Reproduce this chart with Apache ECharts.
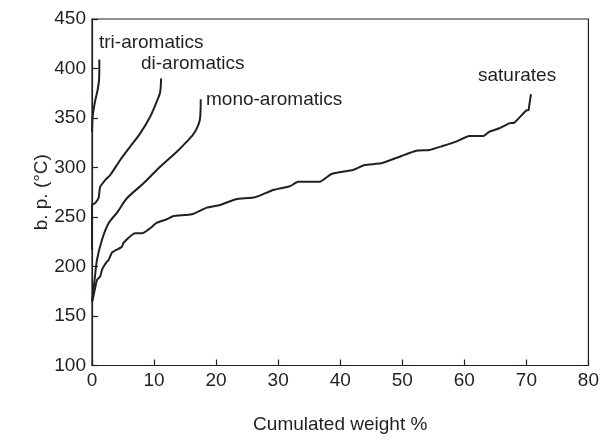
<!DOCTYPE html>
<html><head><meta charset="utf-8">
<script src="https://cdn.jsdelivr.net/npm/echarts@6/dist/echarts.min.js"></script>
<style>html,body{margin:0;padding:0;background:#fff}#c{width:602px;height:440px}</style>
</head><body><div id="c"></div>
<script>
const xTicks = [0,10,20,30,40,50,60,70,80];
const yTicks = [100,150,200,250,300,350,400,450];
const triAromatics = [[0,336],[0.1,351],[0.3,360],[0.53,368],[0.9,378],[1.15,390],[1.18,409]];
const diAromatics = [[0,217],[0,262],[0.5,264],[1.05,269],[1.17,274],[1.33,280.6],[2.14,287.4],[2.94,292.4],[4.55,307.6],[6.16,321.1],[7.77,334.5],[9.37,351.3],[10.4,366],[10.98,376],[11.14,390]];
const monoAromatics = [[0,164.5],[0.42,186.4],[0.8,206.6],[1.6,226.8],[2.67,243.6],[4.1,255],[5.63,268.9],[8.3,284],[10.98,300.8],[13.67,316],[15.27,326.1],[16.6,336.2],[17.41,349.7],[17.52,369]];
const saturates = [[0,164.5],[0.1,166],[0.8,186.4],[1.33,190],[1.6,196.5],[1.86,199.8],[2.41,204.9],[2.67,206.6],[3.22,214],[4.02,217],[4.82,220],[5.08,224],[6.96,233.5],[7.77,233.5],[8.3,234],[9.37,238.6],[10.45,244.2],[12.06,247.7],[13.12,251],[16.08,252.7],[18.49,259.5],[20.63,262.1],[23.2,268],[26.25,269.9],[29.2,277.3],[31.88,281],[33.2,285.6],[36.7,285.6],[38.6,293.4],[42.06,297.5],[43.94,302.5],[46.6,304.2],[49.57,310.9],[52.25,317],[54.4,317.7],[56.5,321.7],[58.68,326.1],[60.8,331.8],[63.1,331.8],[64.04,336.2],[65.64,339.6],[67.25,344.6],[68.06,345.3],[69.94,357.4],[70.36,358.1],[70.47,363.1],[70.74,374]];
const seriesNames = ['tri-aromatics','di-aromatics','mono-aromatics','saturates'];
const seriesData = [triAromatics, diAromatics, monoAromatics, saturates];
const seriesSmooth = [0.2, 0.25, 0.35, 0.15];
const curveLabels = [
  {text:'tri-aromatics', x:99, y:43},
  {text:'di-aromatics', x:141, y:64},
  {text:'mono-aromatics', x:206, y:100},
  {text:'saturates', x:478, y:76}
];
const FONT = '"Liberation Sans", Arial, sans-serif';
const INK = '#231f20';
const FS = 19;
const chart = echarts.init(document.getElementById('c'), null, {renderer:'canvas'});
chart.setOption({
  animation:false,
  backgroundColor:'#fff',
  grid:{left:92, right:12, top:19, bottom:74.5, containLabel:false, show:true, borderColor:INK, borderWidth:1.2, backgroundColor:'transparent'},
  xAxis:{type:'value', min:xTicks[0], max:xTicks[xTicks.length-1], interval:10,
    name:'Cumulated weight %', nameLocation:'middle', nameGap:50, nameMoveOverlap:false,
    nameTextStyle:{fontFamily:FONT, fontSize:FS, color:INK},
    axisLine:{show:true, onZero:false, lineStyle:{color:INK, width:1.2}},
    axisTick:{show:true, inside:true, length:6, lineStyle:{color:INK, width:1.2}},
    axisLabel:{fontFamily:FONT, fontSize:FS, color:INK, margin:6},
    splitLine:{show:false}},
  yAxis:{type:'value', min:yTicks[0], max:yTicks[yTicks.length-1], interval:50,
    name:'b. p. (°C)', nameLocation:'middle', nameGap:41, nameRotate:90, nameMoveOverlap:false,
    nameTextStyle:{fontFamily:FONT, fontSize:FS, color:INK},
    axisLine:{show:true, onZero:false, lineStyle:{color:INK, width:1.2}},
    axisTick:{show:true, inside:true, length:6, lineStyle:{color:INK, width:1.2}},
    axisLabel:{fontFamily:FONT, fontSize:FS, color:INK, margin:6},
    splitLine:{show:false}},
  series: seriesData.map((d,i)=>({
    name:seriesNames[i], type:'line', data:d, showSymbol:false, symbol:'none',
    lineStyle:{color:INK, width:2}, smooth:seriesSmooth[i], z:3
  })),
  graphic: curveLabels.map(l=>({type:'text', x:l.x, y:l.y,
    style:{text:l.text, fontFamily:FONT, fontSize:FS, fill:INK, align:'left', verticalAlign:'middle'}}))
});
</script></body></html>
